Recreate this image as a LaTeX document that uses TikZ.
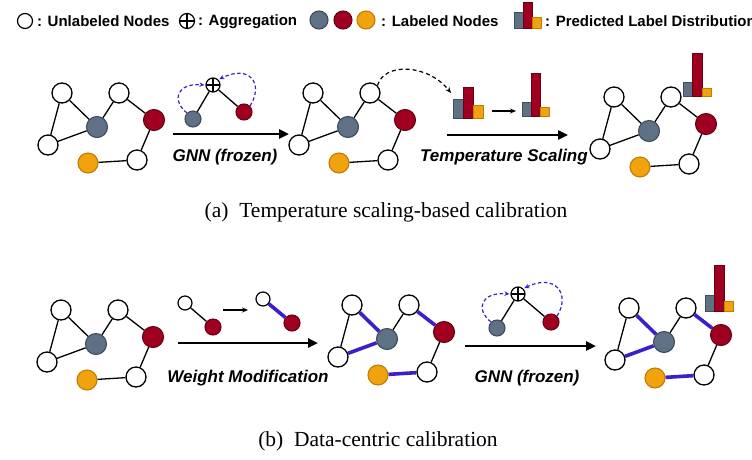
\documentclass[tikz,border=0pt]{standalone}
\usepackage{fontspec}
\setmainfont{Liberation Serif}
\newfontfamily\sansf{Liberation Sans}
\usetikzlibrary{arrows.meta}
\definecolor{cgray}{HTML}{5F7285}
\definecolor{cgrayb}{HTML}{3E4D5C}
\definecolor{cred}{HTML}{A00020}
\definecolor{credb}{HTML}{6B0015}
\definecolor{corg}{HTML}{F0A30E}
\definecolor{corgb}{HTML}{C07E00}
\definecolor{cblue}{HTML}{3A1FCC}
\tikzset{
  unl/.style={circle,draw=black,fill=white,line width=1.3pt,minimum size=20pt,inner sep=0pt},
  gnode/.style={circle,draw=cgrayb,fill=cgray,line width=1.1pt,minimum size=21pt,inner sep=0pt},
  rnode/.style={circle,draw=credb,fill=cred,line width=1.1pt,minimum size=21pt,inner sep=0pt},
  onode/.style={circle,draw=corgb,fill=corg,line width=1.1pt,minimum size=20pt,inner sep=0pt},
  agg/.style={circle,draw=black,fill=white,line width=1.2pt,minimum size=14pt,inner sep=0pt,
    path picture={\draw[line width=1.1pt] (path picture bounding box.north)--(path picture bounding box.south)
      (path picture bounding box.west)--(path picture bounding box.east);}},
  edge/.style={line width=1.3pt,black},
  bedge/.style={line width=3.6pt,cblue},
  bigarrow/.style={line width=2.4pt,-{Triangle[length=10pt,width=9pt]}},
  smallarrow/.style={line width=1.2pt,-{Stealth[length=6pt,width=5pt]}},
  bdash/.style={cblue,line width=1.2pt,dash pattern=on 3.5pt off 2.5pt,-{Stealth[length=5pt,width=4.5pt]},shorten >=1pt},
  kdash/.style={black,line width=1.2pt,dash pattern=on 4pt off 3pt,-{Stealth[length=6pt,width=5pt]}},
  lbl/.style={font=\sansf\bfseries\itshape\fontsize{17}{19}\selectfont,inner sep=0pt},
  leg/.style={font=\sansf\bfseries\fontsize{15}{17}\selectfont,inner sep=0pt,anchor=west},
  captxt/.style={font=\fontsize{21.5}{24}\selectfont,inner sep=0pt},
  gbar/.style={fill=cgray,draw=cgrayb,line width=0.9pt},
  rbar/.style={fill=cred,draw=credb,line width=0.9pt},
  obar/.style={fill=corg,draw=corgb,line width=0.9pt},
}
\newcommand\placegraph[3]{%
  \begin{scope}[shift={(#2,#3)}]
    \node[unl] (#1u1) at (62,93) {};
    \node[unl] (#1u2) at (119,93) {};
    \node[gnode] (#1g) at (97,127) {};
    \node[rnode] (#1r) at (154,120) {};
    \node[unl] (#1u3) at (48,145) {};
    \node[onode] (#1o) at (88,163) {};
    \node[unl] (#1u4) at (137,160) {};
  \end{scope}}
\newcommand\plainedges[1]{%
  \draw[edge] (#1u1)--(#1u3) (#1u1)--(#1g) (#1u3)--(#1g) (#1u2)--(#1g) (#1u2)--(#1r) (#1r)--(#1u4) (#1u4)--(#1o);}
\newcommand\blueedges[1]{%
  \draw[edge] (#1u1)--(#1u3) (#1u2)--(#1g) (#1r)--(#1u4);
  \draw[bedge] (#1u1)--(#1g) (#1u3)--(#1g) (#1u2)--(#1r) (#1u4)--(#1o);}
% bars: x0, bottom, w, top gray, top red, top orange
\newcommand\barset[6]{%
  \draw[gbar] (#1,#2) rectangle ++(#3,{#4-#2});
  \draw[rbar] ({#1+#3},#2) rectangle ++(#3,{#5-#2});
  \draw[obar] ({#1+2*#3},#2) rectangle ++(#3,{#6-#2});}
\begin{document}
\begin{tikzpicture}[x=1pt,y=-1pt]
\useasboundingbox (0,0) rectangle (752,459);
% ---------- legend ----------
\node[unl,minimum size=15pt,line width=1.2pt] (lu) at (25,21) {};
\node[leg] (lut) at (37,21.5) {: Unlabeled Nodes};
\node[agg,minimum size=15pt] (la) at (187,21) {};
\node[leg] (lat) at (198,21.5) {: Aggregation};
\node[gnode,minimum size=18pt] (lg) at (319,20) {};
\node[rnode,minimum size=18pt] (lr) at (343,20) {};
\node[onode,minimum size=18pt] (lo) at (366,20) {};
\node[leg] (llt) at (381,21.5) {: Labeled Nodes};
\barset{514}{28}{9.3}{12}{2}{17}
\node[leg] (lpt) at (545,21.5) {: Predicted Label Distribution};
% ---------- (a) ----------
\placegraph{A}{0}{0}
\plainedges{A}
\placegraph{B}{251}{0}
\plainedges{B}
\placegraph{C}{552}{4}
\plainedges{C}
% aggregation mini
\node[agg] (ap) at (213,85) {};
\node[gnode,minimum size=16pt] (ag) at (193,119) {};
\node[rnode,minimum size=16pt] (ar) at (244,112) {};
\draw[edge] (ap)--(ag) (ap)--(ar);
\draw[bdash] (ag.north west) .. controls (171,100) and (177,83) .. (ap.west);
\draw[bdash] (ar.north east) .. controls (264,84) and (250,64) .. (ap.north east);
% arrow 1
\coordinate (a1s) at (173,134);
\coordinate (a1e) at (289,134);
\draw[bigarrow] (a1s)--(a1e);
\node[lbl] (a1t) at (225,157) {GNN (frozen)};
% dashed black arrow
\coordinate (kd) at (451,93);
\draw[kdash] (Bu2.north east) .. controls (384,62) and (428,64) .. (kd);
% bars
\barset{453}{118}{10}{99}{87}{105}
\coordinate (sa1) at (492,111);
\coordinate (sa2) at (516,111);
\draw[smallarrow] (sa1)--(sa2);
\barset{522}{116}{9}{102}{73}{107}
\coordinate (a2s) at (447,135);
\coordinate (a2e) at (568,135);
\draw[bigarrow] (a2s)--(a2e);
\node[lbl] (a2t) at (504,157) {Temperature Scaling};
\barset{683}{96}{9.5}{82}{53}{88}
\node[captxt] (capa) at (386,212) {(a)\hspace{0.5em}Temperature scaling-based calibration};
% ---------- (b) ----------
\placegraph{D}{-1}{217}
\plainedges{D}
\placegraph{E}{290}{212}
\blueedges{E}
\placegraph{F}{567}{215}
\blueedges{F}
% weight modification mini
\node[unl,minimum size=14pt,line width=1.2pt] (wu1) at (185,303) {};
\node[rnode,minimum size=16pt] (wr1) at (213,327) {};
\draw[edge] (wu1)--(wr1);
\coordinate (ws1) at (223,310);
\coordinate (ws2) at (248,310);
\draw[smallarrow] (ws1)--(ws2);
\node[unl,minimum size=14pt,line width=1.2pt] (wu2) at (263,299) {};
\node[rnode,minimum size=16pt] (wr2) at (292,323) {};
\draw[bedge] (wu2)--(wr2);
\coordinate (b1s) at (178,343);
\coordinate (b1e) at (318,343);
\draw[bigarrow] (b1s)--(b1e);
\node[lbl] (b1t) at (248,378) {Weight Modification};
% aggregation mini bottom
\node[agg] (bp) at (518,294) {};
\node[gnode,minimum size=16pt] (bg) at (497,328) {};
\node[rnode,minimum size=16pt] (br) at (551,322) {};
\draw[edge] (bp)--(bg) (bp)--(br);
\draw[bdash] (bg.north west) .. controls (475,309) and (481,292) .. (bp.west);
\draw[bdash] (br.north east) .. controls (571,294) and (555,273) .. (bp.north east);
\coordinate (b2s) at (465,346);
\coordinate (b2e) at (596,346);
\draw[bigarrow] (b2s)--(b2e);
\node[lbl] (b2t) at (527,378) {GNN (frozen)};
\barset{705}{311}{9.5}{295}{265}{301}
\node[captxt] (capb) at (378,441) {(b)\hspace{0.5em}Data-centric calibration};
\end{tikzpicture}
\end{document}
